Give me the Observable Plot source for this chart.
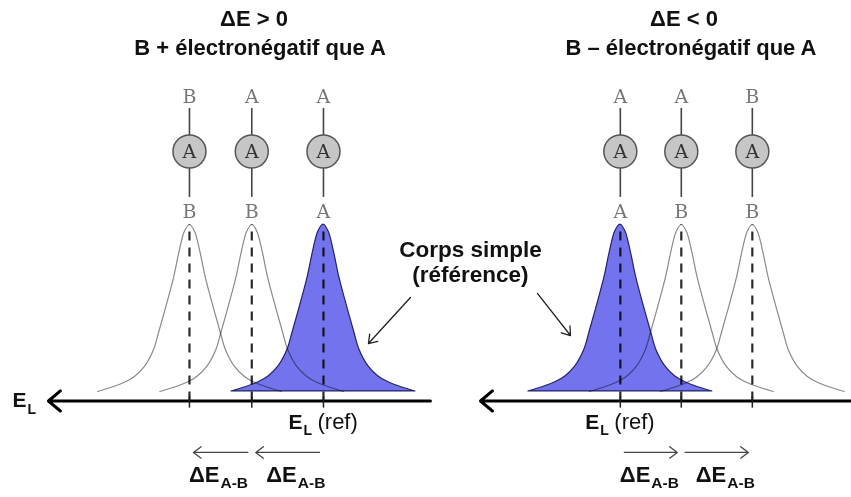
<!DOCTYPE html>
<html><head><meta charset="utf-8">
<script src="https://cdn.jsdelivr.net/npm/d3@7"></script>
<script src="https://cdn.jsdelivr.net/npm/@observablehq/plot@0.6"></script>
<style>
body{margin:0;background:#fff;}
#wrap{position:relative;width:851px;height:497px;background:#fff;overflow:hidden;font-family:"Liberation Sans",Arial,sans-serif;}
.t{position:absolute;transform:translateX(-50%);white-space:nowrap;font-weight:bold;font-size:22px;line-height:22px;color:#111;}
#chart{position:absolute;left:0;top:62px;}
</style></head><body>
<div id="wrap"><div id="titles"></div><div id="chart"></div></div>
<script>
// ---------------- data ----------------
const panelTitles = ["ΔE > 0", "ΔE < 0"];
const panelSubtitles = ["B + électronégatif que A", "B – électronégatif que A"];
const species = ["A–A–A", "A–A–B", "B–A–B"];   // environment of the central atom A
const centralAtom = "A";
const topAtom = ["A", "A", "B"];
const bottomAtom = ["A", "B", "B"];
// E_L of the reference (corps simple) peak in each panel, arbitrary units (E_L grows to the left)
const referencePosition = [7.88, 3.45];
const shiftLeftPanel = [0, 1.07, 2.00];     // ΔE > 0 : peaks move to higher E_L
const shiftRightPanel = [0, -0.91, -1.97];  // ΔE < 0 : peaks move to lower E_L
// peak profile (distance from centre -> relative intensity)
const profileOffset = [0, 0.075, 0.149, 0.239, 0.358, 0.463, 0.537, 0.672, 0.821, 0.970, 1.164, 1.373];
const profileHeight = [1, 0.96, 0.85, 0.68, 0.50, 0.35, 0.25, 0.15, 0.09, 0.055, 0.025, 0];
const referenceLabel = ["Corps simple", "(référence)"];
const deltaLabel = "ΔE";
const deltaSubscript = "A-B";

// ---------------- titles ----------------
const titleBox = document.getElementById("titles");
const line1Centers = [254, 684], line2Centers = [260, 691];
panelTitles.forEach((t, i) => {
  const a = document.createElement("div"); a.className = "t"; a.textContent = t;
  a.style.left = line1Centers[i] + "px"; a.style.top = "8px"; titleBox.appendChild(a);
  const b = document.createElement("div"); b.className = "t"; b.textContent = panelSubtitles[i];
  b.style.left = line2Centers[i] + "px"; b.style.top = "37px"; titleBox.appendChild(b);
});

// ---------------- tables ----------------
const shifts = [shiftLeftPanel, shiftRightPanel];
const peaks = [];
shifts.forEach((sh, p) => sh.forEach((d, s) => peaks.push({
  panel: p, s, name: species[s], x: referencePosition[p] + d, top: topAtom[s], bottom: bottomAtom[s]
})));
const curves = [];
peaks.forEach(pk => {
  const n = profileOffset.length;
  for (let k = n - 1; k > 0; k--) curves.push({key: pk.panel + "-" + pk.s, s: pk.s, x: pk.x - profileOffset[k], y: profileHeight[k]});
  for (let k = 0; k < n; k++) curves.push({key: pk.panel + "-" + pk.s, s: pk.s, x: pk.x + profileOffset[k], y: profileHeight[k]});
});
const refPeaks = peaks.filter(d => d.s === 0);
// ΔE arrows between successive peaks
const deltas = [];
[0, 1].forEach(p => {
  const pp = peaks.filter(d => d.panel === p);
  const pairs = [[pp[0], pp[1]], [pp[1], pp[2]]].map(([a, b]) => ({x1: a.x, x2: b.x, left: Math.max(a.x, b.x)}));
  pairs.sort((u, v) => v.left - u.left);
  pairs.forEach((d, i) => deltas.push({...d, rank: i}));
});

// ---------------- layout (intensity units on y) ----------------
const Y = {axis: -0.057, tickTop: -0.03, tickBot: -0.10, topLetter: 1.725, bondTop: [1.695, 1.521],
  circle: 1.437, circleLetter: 1.401, bondBot: [1.335, 1.162], botLetter: 1.036,
  elBase: -0.096, elSub: -0.132, refBase: -0.222, refSub: -0.263, dArrow: -0.365, dBase: -0.545, dSub: -0.578,
  annot: 0.653};
const axisArrows = [{x1: 6.284, x2: 11.985}, {x1: 0, x2: 5.537}];
const annotArrows = [{x1: 6.582, y1: 0.563, x2: 7.209, y2: 0.287}, {x1: 4.687, y1: 0.587, x2: 4.194, y2: 0.335}];
const annotPos = [{x: 5.687, text: referenceLabel.join("\n")}];
const junction = [30, 45]; // px from the left end of each ΔE arrow pair

const bold = "bold";
const deltaMarks = junction.flatMap((j, r) => [
  Plot.text(deltas.filter(d => d.rank === r), {x: "left", y: Y.dBase, text: () => deltaLabel, textAnchor: "end", dx: j, lineAnchor: "bottom", fontSize: 22, fontWeight: bold}),
  Plot.text(deltas.filter(d => d.rank === r), {x: "left", y: Y.dSub, text: () => deltaSubscript, textAnchor: "start", dx: j + 1, lineAnchor: "bottom", fontSize: 15.5, fontWeight: bold})
]);

const chart = Plot.plot({
  width: 851, height: 435, margin: 0,
  x: {domain: [0, 12.7], reverse: true, axis: null},
  y: {domain: [-0.635, 1.970], axis: null},
  style: {fontFamily: "'Liberation Sans', Arial, sans-serif", background: "white", overflow: "visible", color: "#111"},
  marks: [
    Plot.areaY(curves.filter(d => d.s === 0), {x: "x", y: "y", z: "key", fill: "#7373ee", stroke: "#22226a", strokeWidth: 1.2, curve: "catmull-rom"}),
    Plot.line(curves.filter(d => d.s !== 0), {x: "x", y: "y", z: "key", stroke: "#8a8a8a", strokeWidth: 1.2, curve: "catmull-rom", mixBlendMode: "multiply"}),
    Plot.ruleX(peaks, {x: "x", y1: Y.axis, y2: 1, stroke: "#2a2a2a", strokeWidth: 2.2, strokeDasharray: "9,7", mixBlendMode: "multiply"}),
    Plot.arrow(axisArrows, {x1: "x1", x2: "x2", y1: Y.axis, y2: Y.axis, stroke: "black", strokeWidth: 3, headLength: 7.8, headAngle: 80}),
    Plot.ruleX(peaks, {x: "x", y1: Y.tickTop, y2: Y.tickBot, stroke: "#222", strokeWidth: 1.5}),
    // molecules
    Plot.ruleX(peaks, {x: "x", y1: Y.bondTop[0], y2: Y.bondTop[1], stroke: "#444", strokeWidth: 1.6}),
    Plot.ruleX(peaks, {x: "x", y1: Y.bondBot[0], y2: Y.bondBot[1], stroke: "#444", strokeWidth: 1.6}),
    Plot.dot(peaks, {x: "x", y: Y.circle, r: 16.5, fill: "#c6c6c6", stroke: "#555", strokeWidth: 1.5}),
    Plot.text(peaks, {x: "x", y: Y.circleLetter, text: () => centralAtom, lineAnchor: "bottom", fontFamily: "DejaVu Serif", fontSize: 19, fill: "#333"}),
    Plot.text(peaks, {x: "x", y: Y.topLetter, text: "top", lineAnchor: "bottom", fontFamily: "DejaVu Serif", fontSize: 19, fill: "#777"}),
    Plot.text(peaks, {x: "x", y: Y.botLetter, text: "bottom", lineAnchor: "bottom", fontFamily: "DejaVu Serif", fontSize: 19, fill: "#777"}),
    // E_L axis label
    Plot.text([axisArrows[0]], {x: "x2", y: Y.elBase, text: () => "E", textAnchor: "end", dx: -22, lineAnchor: "bottom", fontSize: 21, fontWeight: bold}),
    Plot.text([axisArrows[0]], {x: "x2", y: Y.elSub, text: () => "L", textAnchor: "start", dx: -21, lineAnchor: "bottom", fontSize: 14, fontWeight: bold}),
    // E_L (ref)
    Plot.text(refPeaks, {x: "x", y: Y.refBase, text: () => "E", textAnchor: "end", dx: -21, lineAnchor: "bottom", fontSize: 21, fontWeight: bold}),
    Plot.text(refPeaks, {x: "x", y: Y.refSub, text: () => "L", textAnchor: "start", dx: -20, lineAnchor: "bottom", fontSize: 14, fontWeight: bold}),
    Plot.text(refPeaks, {x: "x", y: Y.refBase, text: () => "(ref)", textAnchor: "start", dx: -6, lineAnchor: "bottom", fontSize: 22}),
    // ΔE arrows and labels
    Plot.arrow(deltas, {x1: "x1", x2: "x2", y1: Y.dArrow, y2: Y.dArrow, insetStart: 4, insetEnd: 4, stroke: "#444", strokeWidth: 1.3, headLength: 11, headAngle: 74}),
    ...deltaMarks,
    // corps simple annotation
    Plot.text(annotPos, {x: "x", y: Y.annot, text: "text", lineAnchor: "bottom", lineHeight: 1.14, fontSize: 22.5, fontWeight: bold}),
    Plot.arrow(annotArrows, {x1: "x1", y1: "y1", x2: "x2", y2: "y2", stroke: "#222", strokeWidth: 1.3, headLength: 11, headAngle: 70})
  ]
});
document.getElementById("chart").appendChild(chart);
</script>
</body></html>
